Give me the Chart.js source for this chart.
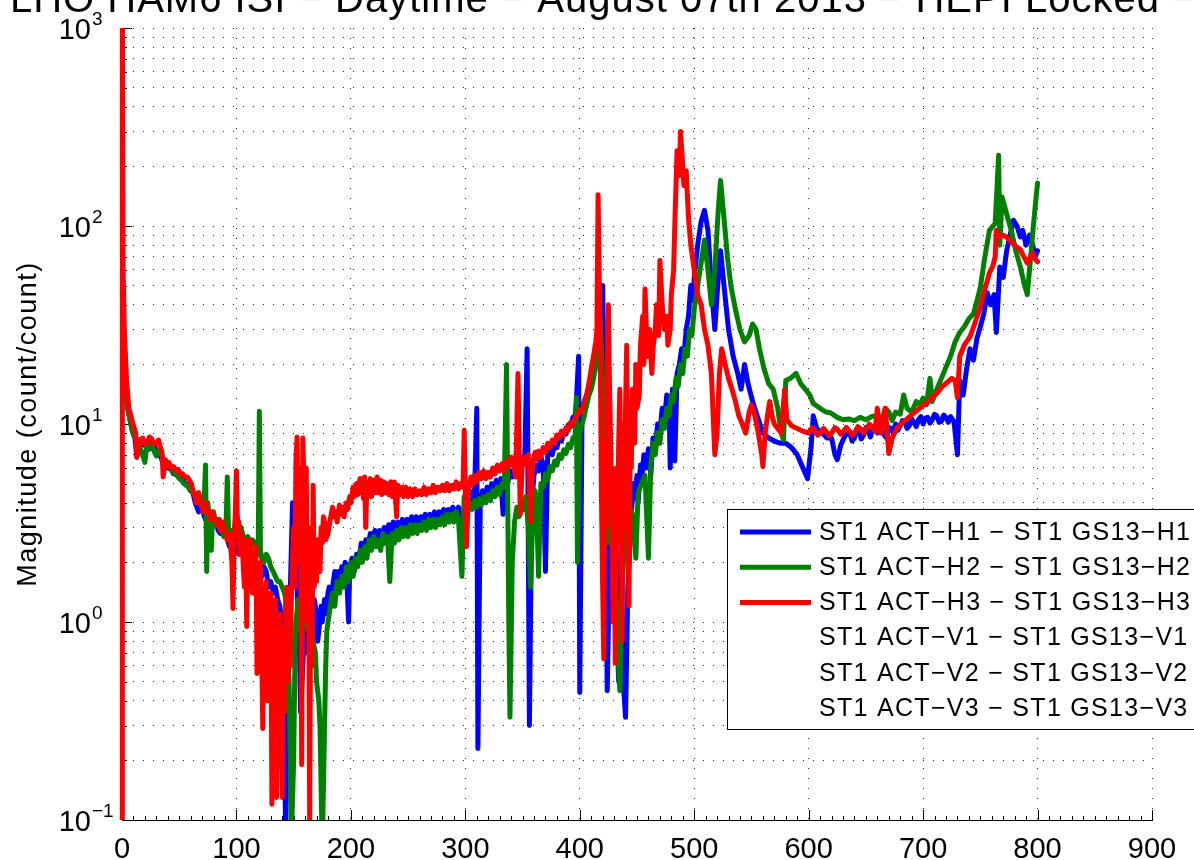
<!DOCTYPE html>
<html lang="en">
<head>
  <meta charset="UTF-8">
  <title>HAM6 ISI ST1 actuator to GS13 transfer functions</title>
  <script src="https://cdn.jsdelivr.net/npm/chart.js"></script>
  <style>
    html, body { margin: 0; padding: 0; background: #fff; overflow: hidden; }
    canvas { display: block; }
  </style>
</head>
<body>
  <canvas id="tfChart" width="1194" height="860"></canvas>

  <script>
    // Figure text
    const titleText = 'LHO HAM6 ISI \u2212 Daytime \u2212 August 07th 2013 \u2212 HEPI Locked \u2212 TF';
    const yAxisTitle = 'Magnitude (count/count)';
    const seriesLabels = [
      'ST1 ACT\u2212H1 \u2212 ST1 GS13\u2212H1',
      'ST1 ACT\u2212H2 \u2212 ST1 GS13\u2212H2',
      'ST1 ACT\u2212H3 \u2212 ST1 GS13\u2212H3',
      'ST1 ACT\u2212V1 \u2212 ST1 GS13\u2212V1',
      'ST1 ACT\u2212V2 \u2212 ST1 GS13\u2212V2',
      'ST1 ACT\u2212V3 \u2212 ST1 GS13\u2212V3'
    ];
    const seriesColors = ['#0000ff', '#008000', '#ff0000', 'rgba(0,0,0,0)', 'rgba(0,0,0,0)', 'rgba(0,0,0,0)'];

    // Axis ticks
    const xTickValues = [0, 100, 200, 300, 400, 500, 600, 700, 800, 900];
    const yDecades = [0.1, 1, 10, 100, 1000];
    const yExponents = ['\u22121', '0', '1', '2', '3'];

    // [frequency (Hz), magnitude]
    const h1Points = [
      [0.25,30],[1,24],[2,18],[3,15],[5,12],[7,10.5],[9,9.2],[11,8.8],[13,6.8],[15,8.3],[17,7.8],[20,8.0],[22,7.4],[24,7.5],[26,8.0],
      [28,7.8],[30,7.2],[32,7.0],[34,6.8],[36,6.3],[38,6.4],[40,6.0],[43,5.9],[45,5.6],[48,5.6],[50,5.4],[53,5.3],[55,5.0],[58,4.9],
      [60,4.6],[62,4.5],[64,4.0],[67,3.6],[70,3.8],[72,3.4],[74,3.2],[76,3.5],[78,3.0],[80,3.2],[82,3.3],[84,2.9],[86,2.8],[88,3.1],
      [90,2.9],[92,2.6],[94,2.4],[96,2.7],[98,2.5],[100,2.6],[102,2.2],[104,2.4],[106,2.3],[108,2.1],[110,2.0],[112,2.2],[114,2.1],
      [116,1.8],[118,1.9],[120,1.6],[122,1.7],[124,1.9],[126,1.8],[128,1.5],[130,1.6],[132,1.4],[134,1.5],[136,1.3],[138,1.2],[140,0.9],
      [141,0.5],[143,0.09],[145,0.4],[147,1.4],[149,4.0],[151,3.2],[153,1.5],[155,0.8],[156,0.35],[158,0.6],[160,1.1],[161,0.7],[163,1.3],
      [165,1.0],[166,0.8],[168,1.3],[169,1.2],[171,0.8],[172,0.9],[174,1.2],[175,1.0],[177,1.3],[178,1.1],[180,1.4],[181,1.5],[183,1.2],
      [184,1.5],[186,1.8],[187,1.4],[189,1.8],[190,1.5],[192,1.9],[193,1.7],[195,2.0],[196,1.9],[198,1.0],[199,1.9],[201,2.1],[203,1.8],
      [205,2.2],[207,2.0],[209,2.5],[211,2.2],[213,2.6],[215,2.4],[217,2.8],[219,2.5],[221,2.9],[223,2.6],[225,2.9],[227,2.6],[229,3.0],
      [231,2.7],[233,3.1],[235,2.8],[237,3.2],[239,2.9],[241,3.2],[243,2.9],[245,3.3],[247,3.0],[249,3.3],[251,3.0],[253,3.4],[255,3.1],
      [257,3.4],[259,3.1],[261,3.4],[263,3.2],[265,3.5],[267,3.2],[269,3.5],[271,3.3],[273,3.6],[275,3.3],[277,3.6],[279,3.3],[281,3.7],
      [283,3.4],[285,3.7],[287,3.5],[289,3.8],[291,3.5],[294,3.8],[297,2.2],[299,3.8],[301,4.3],[302,4.0],[304,4.4],[305,4.1],[307,4.6],
      [308,4.3],[310,12],[311,0.23],[313,3.8],[315,4.6],[317,4.2],[319,4.8],[321,4.4],[323,5.0],[325,4.6],[327,5.2],[329,4.7],[331,5.3],
      [333,3.5],[335,5.3],[337,5.0],[339,5.8],[341,5.4],[343,6.1],[345,5.6],[347,6.4],[349,6.0],[351,6.8],[352,7.0],[354,24],[356,0.3],
      [358,4.0],[360,5.5],[362,6.2],[364,5.8],[366,6.8],[368,6.3],[370,1.8],[372,7.0],[374,7.3],[376,7.0],[378,7.9],[380,7.6],[382,8.5],
      [384,8.2],[386,9.1],[388,8.9],[390,9.9],[392,9.7],[394,10.8],[396,11],[397,13],[399,22],[400,0.44],[402,12],[404,13],[406,14],
      [408,15],[410,16],[412,18],[414,20],[417,30],[420,50],[422,8],[424,0.45],[426,2],[428,6],[431,1.5],[434,0.5],[436,2.5],[438,0.5],
      [440,0.33],[442,1.5],[445,3.5],[447,5.0],[448,4.2],[450,5.5],[451,4.0],[453,6.2],[454,5.0],[456,7.0],[458,6.0],[460,7.5],[462,5.5],
      [464,8.5],[466,7.5],[468,10],[470,9],[472,12],[474,10.5],[476,14],[478,13],[479,6],[481,15],[483,6.5],[485,18],[487,20],[489,24],
      [491,22],[493,30],[495,35],[497,50],[499,42],[500,55],[503,80],[506,105],[509,120],[512,95],[515,50],[518,30],[521,55],[523,75],
      [526,50],[530,30],[534,22],[538,18],[541,15],[544,20],[547,16],[551,13],[555,11],[560,9.0],[565,8.5],[570,8.2],[575,8.0],[580,8.0],
      [585,7.6],[590,7.0],[595,6.0],[599,5.3],[602,7.5],[604,11],[607,9.5],[612,9.0],[616,8.5],[620,8.5],[623,7.0],[625,6.6],[628,7.8],
      [632,8.8],[636,9.0],[638,8.2],[640,8.5],[642,9.4],[644,9.2],[646,8.4],[648,8.8],[650,9.6],[652,9.2],[654,8.6],[656,9.5],[658,9.8],
      [660,9.0],[662,9.7],[664,9.4],[666,8.8],[668,8.5],[670,9.6],[672,9.5],[674,9.0],[676,10],[678,9.3],[680,9.8],[682,10.4],[684,10.3],
      [686,9.5],[688,9.8],[690,10.6],[692,10.2],[694,9.7],[696,10.5],[698,10.9],[700,10],[702,10.7],[704,10.8],[706,10.1],[708,10.5],
      [710,11.2],[712,11],[714,10.2],[716,10.3],[718,11.1],[720,10.8],[722,10.2],[724,10.9],[727,10.3],[730,7.0],[732,16.6],[735,14],
      [738,19],[741,24],[744,21],[747,27],[750,31],[753,36],[756,46],[759,40],[762,45],[764,29],[767,62],[770,55],[773,75],[776,90],
      [779,107],[782,100],[785,88],[787,95],[790,80],[793,90],[796,79],[798,70],[800,75]
    ];

    const h2Points = [
      [0.25,30],[1,24],[2,18],[3,15],[5,12],[7,10.5],[10,8.8],[14,8.0],[16,7.5],[18,7.0],[20,6.4],[22,8.2],[24,7.6],[26,7.8],[28,7.3],
      [30,6.9],[32,7.4],[34,7.2],[36,6.6],[38,6.5],[40,6.2],[42,6.0],[44,5.8],[46,5.6],[48,5.5],[50,5.3],[52,5.2],[54,5.0],[56,4.9],
      [58,4.8],[60,4.6],[62,4.5],[64,4.4],[66,4.3],[68,4.0],[70,3.9],[72,4.4],[73,6.2],[74,1.8],[75,4.0],[76,3.5],[77,2.8],[78,2.3],
      [79,3.2],[80,3.6],[82,3.1],[83,3.3],[85,3.0],[86,3.0],[88,2.8],[89,2.7],[91,3.2],[92,5.4],[93,3.0],[94,2.7],[96,2.9],[97,2.5],
      [99,3.2],[100,3.5],[102,3.1],[104,3.0],[106,2.7],[108,2.6],[110,2.7],[112,2.4],[114,2.6],[116,2.5],[118,2.3],[119,2.2],[120,11.6],
      [121,2.3],[122,2.1],[124,2.0],[126,2.2],[128,2.1],[130,1.9],[132,1.8],[134,1.7],[136,1.6],[138,1.6],[140,1.5],[142,1.4],[143,1.3],
      [144,0.9],[146,0.5],[148,0.08],[150,0.2],[151,0.6],[152,1.0],[154,1.3],[155,1.2],[157,0.8],[158,0.9],[160,1.2],[161,1.1],[163,0.9],
      [164,0.95],[166,1.0],[167,0.8],[169,0.7],[170,0.5],[172,0.4],[173,0.3],[175,0.07],[177,0.3],[178,0.6],[179,0.9],[181,1.1],[182,1.2],
      [184,1.4],[186,1.2],[188,1.6],[190,1.4],[192,1.7],[194,1.5],[196,1.9],[198,1.6],[200,2.0],[202,1.7],[204,2.1],[206,1.9],[208,2.3],
      [210,2.0],[212,2.4],[214,2.1],[216,2.6],[218,2.3],[220,2.7],[222,2.4],[224,2.6],[226,2.3],[228,2.8],[230,2.5],[232,2.7],[234,1.6],
      [236,2.8],[238,2.5],[240,2.9],[242,2.6],[244,3.0],[246,2.7],[248,3.0],[250,2.7],[252,3.1],[254,2.8],[256,3.1],[258,2.8],[260,3.1],
      [262,2.9],[264,3.2],[266,2.9],[268,3.3],[270,3.0],[272,3.3],[274,3.0],[276,3.3],[278,3.1],[280,3.4],[282,3.1],[284,3.5],[286,3.2],
      [288,3.5],[290,3.2],[292,3.6],[294,3.3],[297,1.7],[299,4.3],[302,3.6],[304,4.0],[306,3.7],[308,4.1],[310,3.8],[312,4.2],[314,3.9],
      [316,4.3],[318,4.0],[320,4.4],[322,4.1],[324,4.6],[326,4.3],[328,4.8],[330,4.4],[332,5.0],[334,4.8],[336,20],[338,1.0],[339,0.33],
      [341,2.0],[343,3.2],[345,3.8],[347,3.4],[349,4.1],[351,3.7],[353,4.3],[355,3.0],[357,1.5],[359,3.5],[361,4.6],[362,4.2],[364,1.7],
      [366,5.0],[368,4.8],[370,5.6],[372,5.2],[374,6.1],[376,5.8],[378,6.5],[380,6.2],[382,7.0],[384,6.7],[386,7.4],[388,7.1],[390,7.9],
      [392,7.6],[394,8.5],[396,8.7],[397,13.6],[398,2.0],[400,9],[402,10],[404,11],[406,12.5],[408,14],[410,15],[412,17],[415,21],[418,35],
      [421,10],[424,2.5],[427,6],[430,3],[433,0.8],[435,0.45],[437,1.5],[440,3.0],[443,4.0],[446,3.5],[449,2.1],[451,4.5],[454,5.0],
      [457,5.5],[460,2.1],[462,6.0],[464,8.0],[466,7.0],[468,9.0],[470,8.0],[472,10.5],[474,9.5],[476,12],[478,11],[480,14],[482,13],
      [484,17],[486,15.5],[488,20],[490,18],[492,24],[494,22],[496,30],[498,28],[500,38],[503,50],[506,65],[509,85],[512,60],[515,40],
      [518,60],[521,120],[523,170],[526,110],[529,70],[532,50],[536,38],[540,30],[544,26],[548,28],[551,32],[554,30],[557,24],[561,19],
      [565,16],[569,15],[573,12],[576,9],[578,8.3],[580,16.6],[584,17],[589,18],[593,16],[597,15],[601,14],[604,12.7],[610,12],[615,11.5],
      [619,11.4],[625,10.8],[630,10.5],[635,10.6],[640,10.4],[645,10.8],[650,10.5],[655,10.9],[660,11],[664,10.5],[667,12],[670,11.5],
      [673,10.4],[676,11.5],[680,11.2],[683,14],[686,12],[690,11.5],[694,13],[697,12.5],[700,13.5],[703,12.5],[706,17],[708,13],[712,15],
      [716,17],[721,20],[724,22],[728,26],[732,29],[736,31],[740,34],[744,36],[748,44],[750,49],[754,70],[758,95],[763,103],[766,228],
      [767,80],[769,140],[773,115],[777,95],[781,75],[785,62],[788,52],[791,45],[794,70],[797,110],[800,165]
    ];

    const h3Points = [
      [0,0.05],[0.3,1500],[1,60],[2,30],[4,16.6],[6,12],[9.6,10],[12,9],[13,6.8],[15,8.3],[17,8.0],[18,8.5],[20,7.9],[22,8.0],[24,8.6],
      [26,8.4],[28,7.9],[30,8.0],[32,8.3],[33,7.8],[35,7.2],[36,5.4],[38,6.6],[39,6.2],[41,6.4],[43,6.0],[45,6.1],[47,5.8],[49,5.9],
      [51,5.6],[53,5.6],[55,5.4],[57,5.4],[59,5.2],[61,4.9],[62,4.6],[64,4.3],[65,4.0],[67,4.5],[68,4.3],[70,3.8],[71,3.6],[73,4.0],
      [74,3.8],[76,3.5],[77,3.3],[79,3.6],[80,3.4],[82,3.2],[83,3.1],[85,3.3],[86,2.9],[88,3.2],[89,3.0],[91,2.8],[92,2.6],[94,2.8],
      [95,2.4],[96,2.0],[97,1.17],[98,2.6],[99,3.5],[100,5.8],[101,2.8],[102,3.2],[103,2.2],[104,2.8],[105,2.5],[106,1.9],[107,1.5],
      [108,2.6],[109,0.95],[110,2.3],[111,1.8],[112,2.6],[113,2.0],[114,1.4],[115,2.2],[116,1.6],[117,2.4],[118,0.55],[119,1.9],[120,1.2],
      [121,2.0],[122,0.8],[123,0.29],[124,1.5],[125,0.9],[126,1.6],[127,0.4],[128,1.2],[129,0.7],[130,1.4],[131,0.12],[132,1.0],[133,0.5],
      [134,1.3],[135,0.13],[136,0.9],[137,0.25],[138,1.1],[139,0.3],[140,0.13],[141,0.9],[142,0.35],[143,1.2],[144,1.5],[145,0.5],
      [146,1.1],[147,0.6],[148,1.3],[149,2.0],[150,3.0],[151,1.5],[152,6.5],[153,8.6],[154,3.0],[155,2.0],[156,6.0],[157,0.19],[158,8.5],
      [159,5.0],[160,3.5],[161,6.0],[162,1.0],[163,3.0],[164,0.1],[165,2.0],[166,0.6],[167,4.9],[168,1.5],[169,2.5],[170,1.6],[171,2.6],
      [172,2.2],[173,1.8],[174,3.0],[175,2.5],[176,3.4],[177,3.2],[178,2.6],[180,2.8],[182,3.3],[184,3.8],[185,3.4],[187,3.6],[188,3.2],
      [190,3.9],[191,3.5],[193,3.8],[194,3.4],[196,4.0],[197,3.7],[199,4.3],[200,4.0],[202,4.8],[203,4.3],[205,5.0],[206,4.4],[208,5.3],
      [209,4.5],[210,4.8],[211,4.2],[212,5.4],[213,3.0],[214,5.1],[215,4.6],[217,5.3],[218,4.3],[220,5.2],[221,4.5],[223,5.4],[224,4.5],
      [226,5.2],[227,4.4],[229,5.1],[230,4.5],[232,5.0],[233,4.4],[235,5.1],[236,4.3],[238,5.1],[240,3.4],[241,4.9],[243,4.4],[245,4.8],
      [246,4.3],[248,4.8],[250,4.3],[252,4.7],[254,4.3],[256,4.7],[258,4.4],[260,4.6],[262,4.4],[264,4.8],[266,4.4],[268,4.7],[270,4.5],
      [272,4.9],[274,4.5],[276,4.8],[278,4.6],[280,4.9],[282,4.6],[284,5.0],[286,4.6],[288,4.9],[290,4.7],[292,5.1],[294,4.7],[296,5.0],
      [298,4.8],[299,9.3],[301,2.4],[303,4.8],[305,5.4],[306,4.9],[308,5.5],[310,5.1],[312,5.7],[314,5.3],[316,5.8],[318,5.3],[320,5.7],
      [322,5.4],[324,6.0],[326,5.6],[328,6.2],[330,5.8],[332,6.3],[334,5.8],[336,6.5],[338,6.1],[340,6.8],[342,6.3],[344,5.4],[346,18],
      [348,3.5],[350,6.7],[352,6.3],[353,6.8],[355,7.0],[357,3.2],[359,6.5],[361,7.2],[362,6.6],[364,7.3],[366,6.8],[368,7.6],[370,7.2],
      [372,8.0],[374,7.6],[376,8.3],[378,8.0],[380,8.8],[382,8.5],[384,9.2],[386,8.8],[388,9.6],[390,9.3],[392,10.2],[394,9.9],[396,10.8],
      [398,11.0],[400,11.8],[402,11.5],[404,13],[406,14],[408,16],[410,19],[412,22],[414,26],[415,30],[416,144],[418,20],[419,4],[420,1.5],
      [421,0.65],[422,8],[423,3],[424,20],[425,40],[426,15],[427,8],[428,3],[429,1.0],[430,4],[431,0.62],[432,6],[433,2.5],[434,8],
      [435,15],[436,4],[437,0.8],[438,10],[439,3],[440,12],[441,25],[442,5],[443,1.2],[444,8],[445,6],[446,15],[447,12],[448,8],[449,20],
      [450,12],[452,14],[453,25],[455,35],[456,20],[457,48],[459,22],[461,30],[463,18],[464,24],[466,30],[467,40],[469,28],[470,67],
      [472,40],[474,30],[476,35],[477,25],[479,30],[480,45],[482,60],[483,100],[485,240],[487,180],[488,300],[490,200],[491,160],[493,190],
      [495,110],[497,80],[500,60],[503,45],[506,40],[509,30],[512,25],[515,18],[518,7],[520,9],[522,18],[524,24],[527,20],[530,17],
      [533,15],[536,13],[539,11],[542,10],[545,9],[548,11.5],[550,12.5],[553,11],[556,9],[559,7],[560,6.1],[562,9],[564,11],[566,13],
      [568,11],[570,10],[573,9.5],[576,9],[579,14.9],[581,10.5],[585,9.8],[590,9.5],[595,9.2],[600,9.0],[603,9.6],[605,9.3],[608,8.8],
      [610,9.0],[613,9.5],[615,9.2],[618,8.7],[620,9.0],[623,9.6],[625,9.4],[628,8.9],[630,9.1],[633,9.6],[635,9.3],[638,8.8],[640,9.0],
      [643,9.7],[645,9.5],[648,9.0],[650,9.4],[653,10],[655,9.7],[658,9.2],[660,12],[663,9.0],[667,12],[670,7.1],[673,8.5],[677,9.5],
      [681,10],[685,10.5],[689,11],[693,11.5],[697,12],[701,12.5],[705,13],[709,13.8],[713,14.5],[717,15.5],[721,16.2],[725,17],[728,16.6],
      [730,13.6],[732,22],[736,25],[741,27.6],[745,32],[750,39],[754,48],[758,58],[761,63],[763,70],[764,95],[767,88],[770,90],[773,88],
      [777,83],[781,79],[785,76],[788,70],[791,65],[794,70],[796,73],[798,68],[800,66]
    ];

    const seriesPoints = [h1Points, h2Points, h3Points, [], [], []];

    const fontFamily = '"Liberation Sans", Arial, Helvetica, sans-serif';

    // every 1..9 x 10^n line of the log grid
    const yGridValues = [];
    yDecades.slice(0, -1).forEach(d => {
      for (let k = 1; k <= 9; k++) yGridValues.push(k * d);
    });
    yGridValues.push(1000);

    // MATLAB-like axes decorations, labels and legend
    const matlabAxes = {
      id: 'matlabAxes',
      beforeDatasetsDraw(chart) {
        const { ctx, chartArea: a, scales: { x, y } } = chart;
        ctx.save();
        ctx.strokeStyle = '#000';
        ctx.lineWidth = 1;
        ctx.beginPath();
        for (let v = 0; v <= 900; v += 10) {
          const px = Math.round(x.getPixelForValue(v)) + 0.5;
          const len = v % 100 === 0 ? 10 : 4;
          ctx.moveTo(px, a.bottom);
          ctx.lineTo(px, a.bottom - len);
        }
        yGridValues.forEach(v => {
          const py = Math.round(y.getPixelForValue(v)) + 0.5;
          const len = yDecades.includes(v) ? 10 : 5;
          ctx.moveTo(a.left, py);
          ctx.lineTo(a.left + len, py);
        });
        ctx.stroke();
        ctx.restore();
      },
      afterDraw(chart) {
        const { ctx, chartArea: a, scales: { x, y } } = chart;
        ctx.save();
        ctx.fillStyle = '#000';

        // x tick labels
        ctx.font = '29px ' + fontFamily;
        ctx.textAlign = 'center';
        ctx.textBaseline = 'alphabetic';
        xTickValues.forEach(v => ctx.fillText(String(v), x.getPixelForValue(v), 858));

        // y tick labels 10^n
        yDecades.forEach((v, i) => {
          const py = y.getPixelForValue(v);
          ctx.font = '29px ' + fontFamily;
          ctx.textAlign = 'right';
          ctx.fillText('10', 91, py + 11);
          ctx.font = '19px ' + fontFamily;
          ctx.textAlign = 'left';
          ctx.fillText(yExponents[i], 92, py - 3);
        });

        // y axis title
        ctx.save();
        ctx.translate(29, (a.top + a.bottom) / 2);
        ctx.rotate(-Math.PI / 2);
        ctx.font = '27px ' + fontFamily;
        ctx.letterSpacing = '1.5px';
        ctx.textAlign = 'center';
        ctx.textBaseline = 'middle';
        ctx.fillText(yAxisTitle, 0, 0);
        ctx.restore();

        // title, mostly above the figure edge
        ctx.save();
        ctx.font = '40px ' + fontFamily;
        ctx.letterSpacing = '1px';
        ctx.textAlign = 'left';
        ctx.textBaseline = 'alphabetic';
        const lead = ctx.measureText('LHO HAM6 ISI \u2212 ').width;
        ctx.fillText(titleText, 335 - lead, 12);
        ctx.restore();

        // legend box
        const box = { left: 727, top: 509, width: 480, height: 220 };
        ctx.fillStyle = '#fff';
        ctx.fillRect(box.left, box.top, box.width, box.height);
        ctx.strokeStyle = '#000';
        ctx.lineWidth = 1;
        ctx.strokeRect(box.left + 0.5, box.top + 0.5, box.width, box.height);
        ctx.font = '25px ' + fontFamily;
        ctx.letterSpacing = '1.3px';
        ctx.textAlign = 'left';
        ctx.textBaseline = 'middle';
        chart.data.datasets.forEach((ds, i) => {
          const ry = 532 + i * 35.2;
          ctx.strokeStyle = ds.borderColor;
          ctx.lineWidth = 5;
          ctx.beginPath();
          ctx.moveTo(740, ry);
          ctx.lineTo(811, ry);
          ctx.stroke();
          ctx.fillStyle = '#000';
          ctx.fillText(ds.label, 819, ry + 1);
        });
        ctx.restore();
      }
    };

    const datasets = seriesLabels.map((label, i) => ({
      label: label,
      data: seriesPoints[i].map(p => ({ x: p[0], y: p[1] })),
      borderColor: seriesColors[i],
      backgroundColor: seriesColors[i],
      borderWidth: 5,
      pointRadius: 0,
      tension: 0,
      fill: false,
      order: 6 - i,
      clip: i === 2 ? { left: 3, top: 0, right: 0, bottom: 0 } : 0
    }));

    const gridStyle = { color: 'rgba(0,0,0,0.85)', lineWidth: 1, drawTicks: false };
    const borderStyle = { display: true, color: '#000', width: 1, dash: [1, 9] };

    new Chart(document.getElementById('tfChart').getContext('2d'), {
      type: 'line',
      data: { datasets: datasets },
      options: {
        responsive: false,
        animation: false,
        layout: { padding: { left: 122, right: 42, top: 28, bottom: 40 } },
        elements: { line: { borderJoinStyle: 'round', borderCapStyle: 'round' } },
        plugins: {
          legend: { display: false },
          title: { display: false },
          tooltip: { enabled: false }
        },
        scales: {
          x: {
            type: 'linear',
            min: 0,
            max: 900,
            ticks: { display: false, stepSize: 100 },
            grid: gridStyle,
            border: borderStyle
          },
          y: {
            type: 'logarithmic',
            min: 0.1,
            max: 1000,
            afterBuildTicks: scale => { scale.ticks = yGridValues.map(v => ({ value: v })); },
            ticks: { display: false, autoSkip: false },
            grid: gridStyle,
            border: borderStyle
          }
        }
      },
      plugins: [matlabAxes]
    });
  </script>
</body>
</html>
